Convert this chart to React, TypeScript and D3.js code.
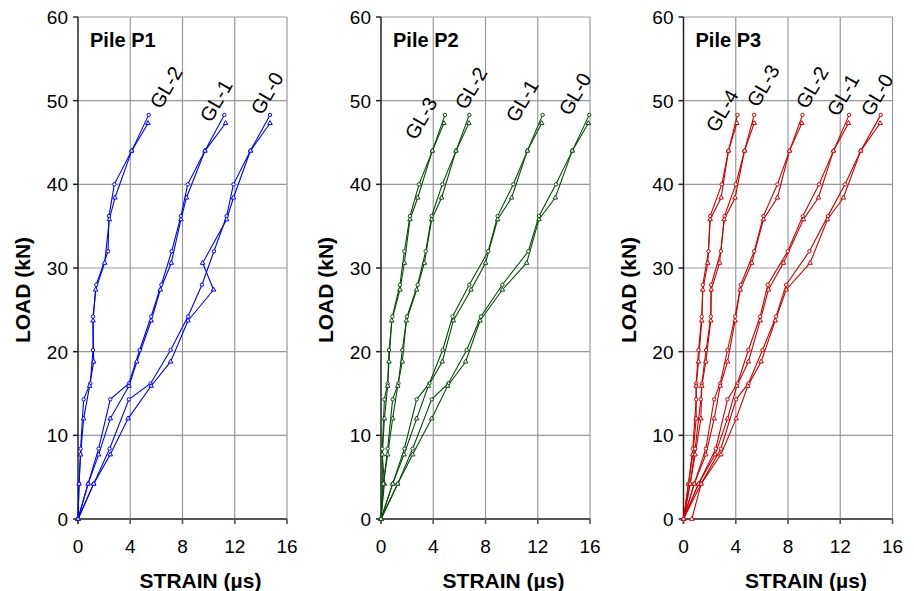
import React from "react";
import * as d3 from "d3";

// ---- data ----
const strainTicks = [0, 4, 8, 12, 16];
const loadTicks = [0, 10, 20, 30, 40, 50, 60];

// load steps of the two recorded passes
const loadsA = [0, 4.2, 8.4, 14.3, 16.2, 20.2, 24.2, 28, 32, 36.2, 40, 44, 48.3];
const loadsB = [0, 4.2, 7.7, 12, 15.9, 18.8, 23.7, 27.4, 30.6, 35.8, 38.4, 44, 47.3];

const pileNames = ["Pile P1", "Pile P2", "Pile P3"];

// Pile P1 gauges (strain per load step)
const p1Gauges = ["GL-2", "GL-1", "GL-0"];
const p1A = [
  [0, 0.08, 0.2, 0.43, 0.94, 1.15, 1.15, 1.4, 2.3, 2.37, 2.78, 4.11, 5.41],
  [0, 0.77, 1.58, 2.47, 3.9, 4.72, 5.6, 6.38, 7.17, 7.88, 8.4, 9.72, 11.2],
  [0, 1.2, 2.42, 3.9, 5.56, 7.09, 8.42, 9.49, 10.41, 11.38, 11.9, 13.2, 14.7],
];
const p1B = [
  [0, 0.08, 0.2, 0.43, 0.89, 1.2, 1.15, 1.35, 2.04, 2.4, 2.83, 4.11, 5.36],
  [0, 0.77, 1.58, 2.47, 3.9, 4.5, 5.6, 6.3, 7.14, 7.88, 8.3, 9.72, 11.3],
  [0, 1.2, 2.47, 3.83, 5.6, 7.09, 8.42, 10.38, 9.54, 11.38, 11.9, 13.2, 14.7],
];
const p1Labels = [
  [6.74, 51.6],
  [10.57, 50.0],
  [14.47, 50.9],
];

// Pile P2 gauges
const p2Gauges = ["GL-3", "GL-2", "GL-1", "GL-0"];
const p2A = [
  [0, 0.1, 0.1, 0.26, 0.51, 0.61, 0.87, 1.45, 1.79, 2.22, 2.91, 3.93, 4.9],
  [0, 0.18, 0.51, 0.89, 1.33, 1.63, 1.99, 2.81, 3.42, 3.88, 4.69, 5.74, 6.76],
  [0, 0.89, 1.79, 2.73, 3.7, 4.72, 5.48, 6.76, 8.21, 8.93, 10.13, 11.2, 12.37],
  [0, 1.28, 2.42, 3.88, 5.15, 6.56, 7.65, 9.29, 11.28, 12.09, 13.39, 14.64, 15.94],
];
const p2B = [
  [0, 0.26, 0.1, 0.26, 0.51, 0.61, 0.82, 1.45, 1.79, 2.22, 2.81, 3.93, 4.82],
  [0, 0.18, 0.51, 0.89, 1.28, 1.63, 1.94, 2.73, 3.32, 3.88, 4.64, 5.74, 6.73],
  [0, 0.89, 1.76, 2.73, 3.62, 4.69, 5.54, 6.89, 8.0, 8.93, 10.0, 11.2, 12.3],
  [0, 1.28, 2.42, 3.88, 5.1, 6.48, 7.58, 9.29, 11.15, 12.09, 13.34, 14.64, 15.87],
];
const p2Labels = [
  [3.06, 47.9],
  [6.89, 51.5],
  [10.8, 50.0],
  [14.85, 50.8],
];

// Pile P3 gauges
const p3Gauges = ["GL-4", "GL-3", "GL-2", "GL-1", "GL-0"];
const p3A = [
  [0, 0.38, 0.71, 0.97, 0.97, 1.15, 1.4, 1.48, 1.91, 2.04, 2.93, 3.44, 4.13],
  [0, 0.51, 0.89, 1.33, 1.4, 1.73, 2.09, 2.12, 2.86, 3.14, 4.0, 4.67, 5.41],
  [0, 0.82, 1.71, 2.35, 2.81, 3.37, 3.95, 4.39, 5.41, 6.12, 7.19, 8.11, 9.11],
  [0, 1.15, 2.47, 3.37, 4.13, 4.97, 5.87, 6.45, 7.98, 9.13, 10.38, 11.48, 12.68],
  [0, 1.35, 2.86, 4.03, 4.97, 6.05, 7.09, 7.86, 9.64, 11.05, 12.37, 13.57, 15.1],
];
const p3B = [
  [0, 0.38, 0.71, 0.97, 0.97, 1.15, 1.4, 1.48, 1.86, 2.04, 2.88, 3.44, 4.08],
  [0, 0.51, 0.89, 1.33, 1.4, 1.71, 2.09, 2.12, 2.76, 3.11, 3.95, 4.67, 5.41],
  [0, 0.82, 1.71, 2.35, 2.81, 3.37, 3.95, 4.34, 5.23, 6.12, 7.19, 8.11, 9.06],
  [0, 1.15, 2.42, 3.37, 4.08, 4.97, 5.87, 6.5, 7.65, 9.18, 10.33, 11.48, 12.63],
  [0.64, 1.35, 2.86, 4.03, 4.92, 5.94, 7.02, 7.86, 9.69, 11.02, 12.24, 13.57, 15.05],
];
const p3Labels = [
  [2.95, 48.8],
  [6.09, 51.8],
  [9.84, 51.6],
  [12.21, 50.7],
  [14.81, 50.7],
];

const pileColors = ["#0000FF", "#0B4A0B", "#CC0000"];

// ---- layout ----
const W = 914;
const H = 591;
const panelLefts = [78, 381, 683.5];
const panelW = 209;
const top = 17;
const bottom = 519;
const FONT = "Arial, 'Liberation Sans', Helvetica, sans-serif";

const piles = [
  { gauges: p1Gauges, a: p1A, b: p1B, labels: p1Labels },
  { gauges: p2Gauges, a: p2A, b: p2B, labels: p2Labels },
  { gauges: p3Gauges, a: p3A, b: p3B, labels: p3Labels },
];

function Panel({ idx }: { idx: number }) {
  const pile = piles[idx];
  const color = pileColors[idx];
  const x0 = panelLefts[idx];
  const x = d3.scaleLinear().domain([0, 16]).range([x0, x0 + panelW]);
  const y = d3.scaleLinear().domain([0, 60]).range([bottom, top]);
  const line = d3
    .line<[number, number]>()
    .x((d) => x(d[0]))
    .y((d) => y(d[1]));
  const tri = d3.symbol().type(d3.symbolTriangle).size(9)();

  return (
    <g>
      {/* grid */}
      {loadTicks.slice(1).map((t) => (
        <line key={"h" + t} x1={x(0)} x2={x(16)} y1={y(t)} y2={y(t)} stroke="#999" strokeWidth={1.2} />
      ))}
      {strainTicks.slice(1).map((t) => (
        <line key={"v" + t} x1={x(t)} x2={x(t)} y1={y(60)} y2={y(0) + 5} stroke="#999" strokeWidth={1.2} />
      ))}
      {/* axes */}
      <line x1={x(0)} x2={x(16)} y1={y(0)} y2={y(0)} stroke="#555" strokeWidth={1.8} />
      <line x1={x(0)} x2={x(0)} y1={y(0) + 5} y2={y(60)} stroke="#222" strokeWidth={1.5} />
      {loadTicks.map((t) => (
        <line key={"yt" + t} x1={x(0) - 5} x2={x(0)} y1={y(t)} y2={y(t)} stroke="#222" strokeWidth={1.5} />
      ))}
      {strainTicks.map((t) => (
        <line key={"xt" + t} x1={x(t)} x2={x(t)} y1={y(0)} y2={y(0) + 5} stroke="#555" strokeWidth={1.5} />
      ))}
      {loadTicks.map((t) => (
        <text key={"yl" + t} x={x(0) - 10} y={y(t) + 7} textAnchor="end" fontSize={19} fontFamily={FONT} fill="#000">
          {t}
        </text>
      ))}
      {strainTicks.map((t) => (
        <text key={"xl" + t} x={x(t)} y={y(0) + 34} textAnchor="middle" fontSize={19} fontFamily={FONT} fill="#000">
          {t}
        </text>
      ))}
      <text x={x(8) + 18} y={588} textAnchor="middle" fontSize={21} fontWeight="bold" fontFamily={FONT}>
        STRAIN (µs)
      </text>
      <text
        transform={`translate(${x0 - 48},${290}) rotate(-90)`}
        textAnchor="middle"
        fontSize={21}
        fontWeight="bold"
        fontFamily={FONT}
      >
        LOAD (kN)
      </text>
      <text x={x0 + 12} y={47} fontSize={20} fontWeight="bold" fontFamily={FONT}>
        {pileNames[idx]}
      </text>
      {/* series */}
      {pile.gauges.map((g, gi) => {
        const ptsA: [number, number][] = pile.a[gi].map((s, i) => [s, loadsA[i]]);
        const ptsB: [number, number][] = pile.b[gi].map((s, i) => [s, loadsB[i]]);
        return (
          <g key={g}>
            <path d={line(ptsA) || ""} fill="none" stroke={color} strokeWidth={1.1} />
            <path d={line(ptsB) || ""} fill="none" stroke={color} strokeWidth={1.1} />
            {ptsA.map((p, i) => (
              <circle key={"a" + i} cx={x(p[0])} cy={y(p[1])} r={1.7} fill="#fff" stroke={color} strokeWidth={1} />
            ))}
            {ptsB.map((p, i) => (
              <path
                key={"b" + i}
                d={tri || ""}
                transform={`translate(${x(p[0])},${y(p[1])})`}
                fill="#fff"
                stroke={color}
                strokeWidth={1}
              />
            ))}
            <text
              transform={`translate(${x(pile.labels[gi][0])},${y(pile.labels[gi][1])}) rotate(-60)`}
              textAnchor="middle"
              dominantBaseline="central"
              fontSize={20}
              fontFamily={FONT}
              fill="#000"
            >
              {g}
            </text>
          </g>
        );
      })}
    </g>
  );
}

export default function App() {
  return (
    <svg
      width={W}
      height={H}
      viewBox={`0 0 ${W} ${H}`}
      style={{ position: "absolute", left: 0, top: 0, background: "#fff" }}
    >
      <rect x={0} y={0} width={W} height={H} fill="#fff" />
      {[0, 1, 2].map((i) => (
        <Panel key={i} idx={i} />
      ))}
    </svg>
  );
}
